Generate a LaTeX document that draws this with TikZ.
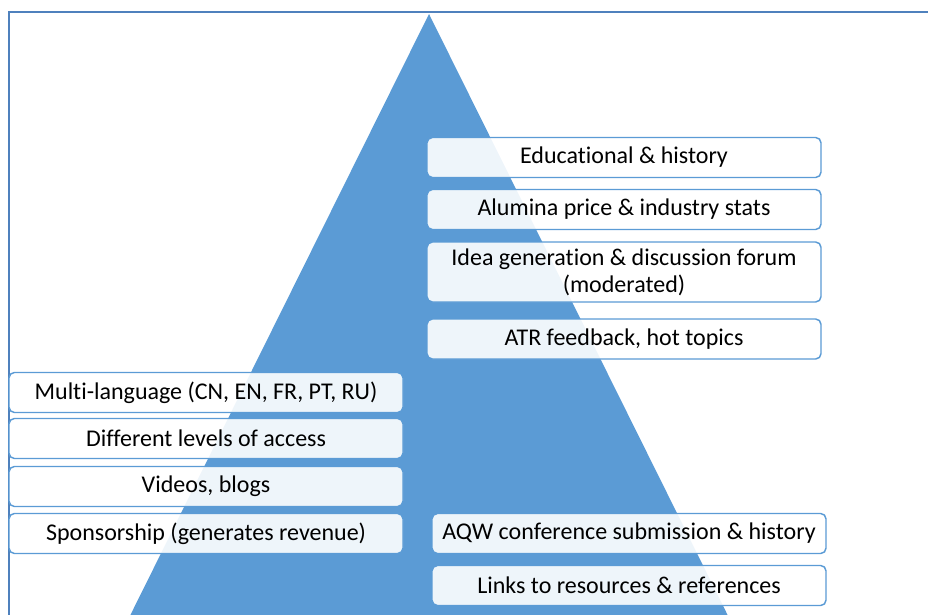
\documentclass[tikz,border=0pt]{standalone}
\usepackage{fontspec}
\setmainfont{Carlito}[Ligatures=NoCommon]
\definecolor{pyrblue}{HTML}{5B9BD5}
\definecolor{frameblue}{HTML}{4F81BD}
\begin{document}
\begin{tikzpicture}[x=0.75pt,y=0.75pt,yscale=-1,xscale=1,
	featbox/.style={draw=pyrblue, line width=1.1pt, fill=white, fill opacity=0.9, text opacity=1,
		rounded corners=4pt, minimum width=295.5pt, minimum height=30pt, inner sep=0pt,
		align=center, font=\fontsize{18}{20}\selectfont}]
		\useasboundingbox (0,0) rectangle (928,614);
		\clip (0,0) rectangle (928,614);
		% frame and pyramid
		\draw [frameblue, line width=1.5pt] (9,650) -- (9,12) -- (950,12) ;
		\fill [pyrblue] (429,14) -- (113,650) -- (745,650) -- cycle ;
		% right column
		\node [featbox] (edu) at (624,157.5) {Educational \& history};
		\node [featbox] (price) at (624,209.5) {Alumina price \& industry stats};
		\node [featbox, minimum height=45pt] (forum) at (624,272) {Idea generation \& discussion forum\\(moderated)};
		\node [featbox] (atr) at (624,339) {ATR feedback, hot topics};
		\node [featbox] (aqw) at (629,533.5) {AQW conference submission \& history};
		\node [featbox] (links) at (629,585.5) {Links to resources \& references};
		% left column
		\node [featbox] (lang) at (206,392.5) {Multi-language (CN, EN, FR, PT, RU)};
		\node [featbox] (access) at (206,438.5) {Different levels of access};
		\node [featbox] (videos) at (206,486.5) {Videos, blogs};
		\node [featbox] (sponsor) at (206,533.5) {Sponsorship (generates revenue)};
\end{tikzpicture}
\end{document}
